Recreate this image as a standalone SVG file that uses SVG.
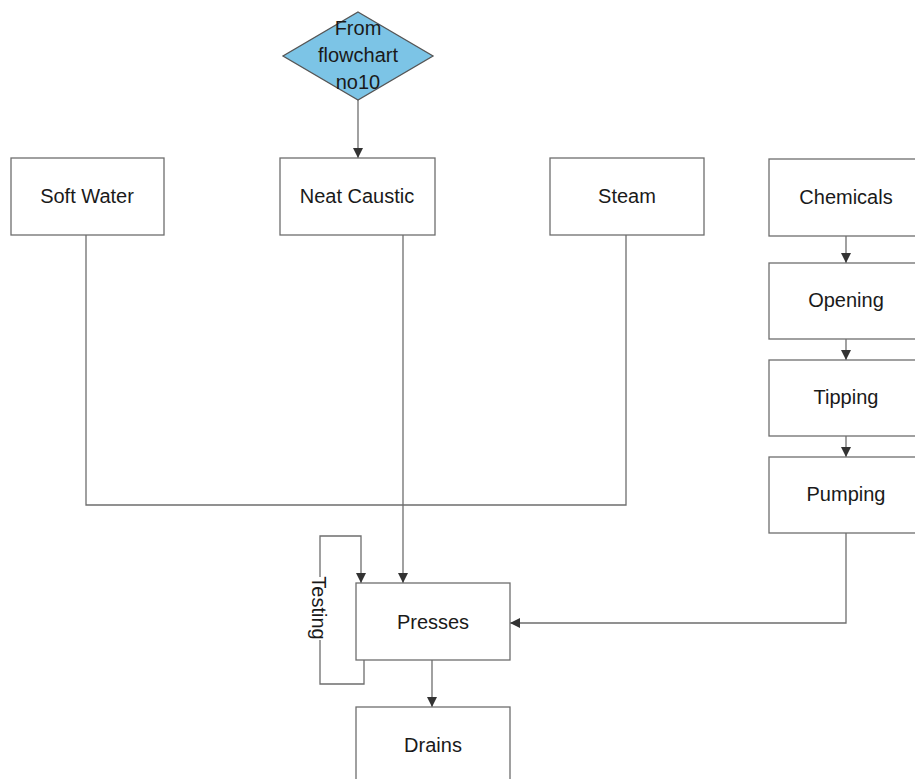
<svg xmlns="http://www.w3.org/2000/svg" width="915" height="779" viewBox="0 0 915 779">
<style>
.box{fill:#fff;stroke:#6e6e6e;stroke-width:1.3}
.lbl{font-family:"Liberation Sans",Arial,sans-serif;font-size:20px;fill:#1a1a1a;text-anchor:middle}
.ln{fill:none;stroke:#6e6e6e;stroke-width:1.3}
</style>
<defs>
<marker id="ah" viewBox="0 0 10 10" refX="10" refY="5" markerWidth="10" markerHeight="10" markerUnits="userSpaceOnUse" orient="auto">
<path d="M0,0 L10,5 L0,10 Z" fill="#333"/>
</marker>
</defs>
<rect width="915" height="779" fill="#fff"/>
<g id="connectors">
<path class="ln" d="M358,100 V158" marker-end="url(#ah)"/>
<path class="ln" d="M86,235 V505 H626 V235"/>
<path class="ln" d="M403,235 V583" marker-end="url(#ah)"/>
<path class="ln" d="M846,236 V263" marker-end="url(#ah)"/>
<path class="ln" d="M846,339 V360" marker-end="url(#ah)"/>
<path class="ln" d="M846,436 V457" marker-end="url(#ah)"/>
<path class="ln" d="M846,533 V623 H510" marker-end="url(#ah)"/>
<path class="ln" d="M432,660 V707" marker-end="url(#ah)"/>
<path class="ln" d="M364,660 V684 H320 V640 M320,577 V536 H361 V583" marker-end="url(#ah)"/>
<text class="lbl" transform="translate(312,608) rotate(90)" y="0">Testing</text>
</g>
<g id="from">
<polygon points="358,12 433,56 358,100 283,56" fill="#7cc4e6" stroke="#555" stroke-width="1.3"/>
<text class="lbl" x="358" y="35">From</text>
<text class="lbl" x="358" y="62">flowchart</text>
<text class="lbl" x="358" y="89">no10</text>
</g>
<g id="softwater"><rect class="box" x="11" y="158" width="153" height="77"/><text class="lbl" x="87" y="203">Soft Water</text></g>
<g id="neatcaustic"><rect class="box" x="280" y="158" width="155" height="77"/><text class="lbl" x="357" y="203">Neat Caustic</text></g>
<g id="steam"><rect class="box" x="550" y="158" width="154" height="77"/><text class="lbl" x="627" y="203">Steam</text></g>
<g id="chemicals"><rect class="box" x="769" y="159" width="155" height="77"/><text class="lbl" x="846" y="204">Chemicals</text></g>
<g id="opening"><rect class="box" x="769" y="263" width="155" height="76"/><text class="lbl" x="846" y="307">Opening</text></g>
<g id="tipping"><rect class="box" x="769" y="360" width="155" height="76"/><text class="lbl" x="846" y="404">Tipping</text></g>
<g id="pumping"><rect class="box" x="769" y="457" width="155" height="76"/><text class="lbl" x="846" y="501">Pumping</text></g>
<g id="presses"><rect class="box" x="356" y="583" width="154" height="77"/><text class="lbl" x="433" y="629">Presses</text></g>
<g id="drains"><rect class="box" x="356" y="707" width="154" height="80"/><text class="lbl" x="433" y="752">Drains</text></g>
</svg>
